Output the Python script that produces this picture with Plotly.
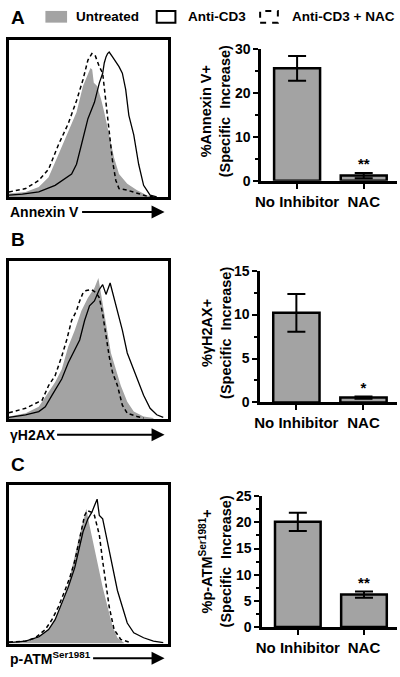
import plotly.graph_objects as go

W, H = 400, 677

# ---------------- Histogram data (x: fluorescence, % of axis; y: % of axis height) ----------------
# Panel A - Annexin V
histA_untreated_x = [0, 10.5, 18.8, 25, 31.2, 37.4, 42.6, 46.7, 49.8, 51.4, 52.5, 53.5, 55.6, 58.1, 60.1, 63.2, 66.3, 69.4, 74.6, 80.8, 87, 91.1]
histA_untreated_y = [2.5, 3.5, 6.6, 12.8, 27.3, 41.8, 54.2, 70.8, 79, 82.4, 81.4, 72.9, 70.8, 62.5, 54.2, 39.8, 25.3, 14.9, 8.7, 4.6, 1.4, 0.4]
histA_cd3_x = [0, 8.5, 18.8, 29.1, 39.5, 42.6, 45.7, 49.8, 53.9, 57, 59.1, 60.1, 61.2, 62.2, 63.2, 64.3, 65.3, 67.4, 69.4, 71.5, 73.6, 75.6, 78.7, 81.8, 84.9, 89, 93.2]
histA_cd3_y = [1.4, 2.1, 3.5, 7.7, 14.9, 21.1, 33.5, 50.1, 60.5, 72.9, 79, 85.5, 89.4, 91.5, 92.5, 90.5, 89.4, 86.3, 83.2, 79, 68.7, 52.2, 39.8, 21.1, 7.7, 1.4, 0.4]
histA_nac_x = [0, 10.5, 18.8, 25, 31.2, 37.4, 42.6, 46.7, 49.8, 52.3, 54.3, 57, 59.1, 61.2, 63.2, 65.3, 67.4, 69.4, 74.6, 80.8, 87, 93.2]
histA_nac_y = [3.5, 5.6, 10.8, 18, 33.5, 47, 61.5, 75, 87.4, 91.5, 90.5, 83.2, 79, 60.5, 39.8, 23.2, 10.8, 5.6, 4.6, 2.5, 0.8, 0]

# Panel B - gammaH2AX
histB_untreated_x = [0, 10.5, 18.8, 25, 29.1, 33.3, 37.4, 41.5, 45.7, 49.8, 53.9, 56.4, 58.1, 60.1, 62.2, 64.3, 67.4, 70.5, 74.6, 78.7, 84.9, 91.1]
histB_untreated_y = [1.6, 3.7, 7.8, 17.1, 23.3, 31.5, 45.9, 56.2, 68.5, 76.7, 82.9, 89.1, 78.8, 66.5, 52.1, 41.8, 31.5, 21.2, 10.9, 4.7, 1.6, 0.6]
histB_cd3_x = [0, 10.5, 18.8, 22.9, 27.1, 33.3, 37.4, 41.5, 44.6, 47.7, 50.8, 53.9, 57, 59.1, 61.2, 63.8, 66.3, 68.4, 71.5, 74.6, 77.7, 80.8, 84.9, 89, 93.2, 97.3]
histB_cd3_y = [1, 2.7, 4.7, 7.8, 15, 25.3, 35.6, 43.8, 50, 62.3, 71.6, 74.7, 81.9, 85, 78.8, 86, 76.7, 68.5, 56.2, 41.8, 33.5, 25.3, 15, 6.8, 2.7, 1]
histB_nac_x = [0, 2.3, 10.5, 18.8, 20.9, 25, 29.1, 33.3, 36.4, 39.5, 42.6, 44.6, 46.7, 48.8, 51.9, 55, 57, 59.1, 61.2, 63.2, 65.3, 68.4, 71.5, 74.6, 80.8, 84.9]
histB_nac_y = [4, 4.7, 6.8, 10.9, 11.9, 21.2, 27.4, 39.7, 50, 62.3, 68.5, 74.7, 79.8, 81.3, 81.9, 79.8, 76.7, 66.5, 52.1, 39.7, 29.4, 21.2, 8.8, 3.7, 1.6, 0.6]

# Panel C - p-ATM Ser1981
histC_untreated_x = [0, 10.5, 18.8, 25, 29.1, 33.3, 37.4, 40.5, 43.6, 46.7, 48.8, 50.8, 52.9, 56, 59.1, 62.2, 65.3, 68.4, 72.5]
histC_untreated_y = [0.6, 1.4, 3.7, 8.9, 15.1, 25.4, 37.7, 52.2, 64.5, 76.9, 85.2, 74.8, 64.5, 50.1, 35.7, 23.3, 10.9, 3.7, 0.6]
histC_cd3_x = [0, 10.5, 18.8, 25, 29.1, 33.3, 37.4, 41.5, 44.6, 46.7, 49.8, 52.3, 53.9, 55.6, 57, 59.1, 61.2, 63.2, 65.3, 68.4, 71.5, 74.6, 78.7, 84.9, 91.1, 97.3]
histC_cd3_y = [0.6, 1.6, 4.3, 8.9, 15.1, 25.4, 35.7, 48, 62.5, 70.7, 78.9, 83.1, 87.2, 91.3, 81, 78.9, 68.7, 58.4, 48, 33.6, 23.3, 13, 6.8, 3.7, 1.6, 0.6]
histC_nac_x = [0, 10.5, 16.7, 22.9, 27.1, 31.2, 35.3, 38.4, 41.5, 43.6, 45.7, 47.7, 49.4, 51.9, 53.9, 55, 57, 59.1, 61.2, 63.2, 66.3, 70.5, 76.7]
histC_nac_y = [1, 1.6, 3.7, 8.9, 15.1, 23.3, 33.6, 41.9, 52.2, 62.5, 72.8, 81, 84.1, 83.1, 81, 76.9, 68.7, 52.2, 37.7, 23.3, 8.9, 2.7, 0.6]

# ---------------- Bar data ----------------
bar_categories = ["No Inhibitor", "NAC"]
annexin_mean = [25.6, 1.2]
annexin_err = [2.8, 0.6]
annexin_stars = ["", "**"]
h2ax_mean = [10.2, 0.55]
h2ax_err = [2.15, 0.12]
h2ax_stars = ["", "*"]
patm_mean = [20.1, 6.2]
patm_err = [1.75, 0.6]
patm_stars = ["", "**"]

legend_labels = ["Untreated", "Anti-CD3", "Anti-CD3 + NAC"]
panel_letters = ["A", "B", "C"]

GRAY = "#a3a3a3"
FONT = "Liberation Sans, Arial, Helvetica, sans-serif"


def fx(px):
    return px / W


def fy(py):
    return 1 - py / H


fig = go.Figure()
layout = dict(width=W, height=H, margin=dict(l=0, r=0, t=0, b=0),
              paper_bgcolor="white", plot_bgcolor="white", showlegend=False,
              font=dict(family=FONT, color="black"))

hist_sets = [
    (histA_untreated_x, histA_untreated_y, histA_cd3_x, histA_cd3_y, histA_nac_x, histA_nac_y, 33, 194),
    (histB_untreated_x, histB_untreated_y, histB_cd3_x, histB_cd3_y, histB_nac_x, histB_nac_y, 259, 421),
    (histC_untreated_x, histC_untreated_y, histC_cd3_x, histC_cd3_y, histC_nac_x, histC_nac_y, 489, 651),
]

for i, (ux, uy, cx, cy, nx, ny, top, bot) in enumerate(hist_sets):
    n = i + 1
    xa, ya = f"x{n}", f"y{n}"
    fig.add_trace(go.Scatter(x=ux, y=uy, mode="lines", fill="tozeroy", fillcolor=GRAY,
                             line=dict(width=0, color=GRAY), xaxis=xa, yaxis=ya))
    fig.add_trace(go.Scatter(x=cx, y=cy, mode="lines", line=dict(width=1.3, color="black"),
                             xaxis=xa, yaxis=ya))
    fig.add_trace(go.Scatter(x=nx, y=ny, mode="lines", line=dict(width=1.5, color="black", dash="4px,3px"),
                             xaxis=xa, yaxis=ya))
    ax_common = dict(showline=True, mirror=True, linewidth=2.5, linecolor="black", showgrid=False,
                     zeroline=False, showticklabels=False, ticks="", fixedrange=True)
    layout[f"xaxis{n}"] = dict(domain=[fx(3), fx(164)], range=[0, 100], anchor=ya, **ax_common)
    layout[f"yaxis{n}"] = dict(domain=[fy(bot), fy(top)], range=[0, 100], anchor=xa, **ax_common)

bar_sets = [
    (annexin_mean, annexin_err, annexin_stars, 30, 10, 5, 42, 177, 259),
    (h2ax_mean, h2ax_err, h2ax_stars, 15, 5, 2.5, 269, 404, 258),
    (patm_mean, patm_err, patm_stars, 25, 5, 2.5, 500, 634, 260),
]

for i, (mean, err, stars, ymax, dt, mdt, top, bot, left) in enumerate(bar_sets):
    n = i + 4
    xa, ya = f"x{n}", f"y{n}"
    fig.add_trace(go.Bar(x=[0, 1], y=mean, width=0.69,
                         marker=dict(color=GRAY, line=dict(color="black", width=2.5)),
                         error_y=dict(type="data", array=err, color="black", thickness=2, width=9),
                         xaxis=xa, yaxis=ya))
    sx = [k for k, s in enumerate(stars) if s]
    sy = [mean[k] + err[k] for k in sx]
    st = [stars[k] for k in sx]
    fig.add_trace(go.Scatter(x=sx, y=sy, mode="text", text=st,
                             textposition="top center",
                             textfont=dict(size=15, family=FONT, weight="bold", color="black"),
                             xaxis=xa, yaxis=ya, cliponaxis=False))
    layout[f"xaxis{n}"] = dict(domain=[fx(left), fx(397)], range=[-0.54, 1.5], anchor=ya,
                               tickvals=[0, 1], ticktext=bar_categories, ticks="outside", ticklen=5,
                               tickwidth=2, tickcolor="black", showline=True, linewidth=2.5, linecolor="black",
                               showgrid=False, zeroline=False, fixedrange=True,
                               tickfont=dict(size=15, family=FONT, weight="bold", color="black"))
    layout[f"yaxis{n}"] = dict(domain=[fy(bot), fy(top)], range=[0, ymax], anchor=xa, dtick=dt,
                               ticks="outside", ticklen=5, tickwidth=2, tickcolor="black",
                               minor=dict(dtick=mdt, ticks="outside", ticklen=3, tickwidth=2, tickcolor="black"),
                               showline=True, linewidth=2.5, linecolor="black", showgrid=False,
                               zeroline=False, fixedrange=True,
                               tickfont=dict(size=14, family=FONT, weight="bold", color="black"))

annotations = []
bold = dict(family=FONT, weight="bold", color="black")

# panel letters
for letter, py in zip(panel_letters, [10, 237, 468]):
    annotations.append(dict(text=letter, x=fx(3), y=fy(py), xref="paper", yref="paper",
                            xanchor="left", yanchor="middle", showarrow=False, font=dict(size=19, **bold)))

# legend
for label, px in zip(legend_labels, [69, 183, 288]):
    annotations.append(dict(text=label, x=fx(px), y=fy(9), xref="paper", yref="paper",
                            xanchor="left", yanchor="middle", showarrow=False, font=dict(size=13.5, **bold)))
shapes = [
    dict(type="rect", xref="paper", yref="paper", x0=fx(40), x1=fx(62), y0=fy(15), y1=fy(3),
         fillcolor=GRAY, line=dict(width=0)),
    dict(type="rect", xref="paper", yref="paper", x0=fx(153), x1=fx(172), y0=fy(15), y1=fy(3),
         line=dict(width=2, color="black")),
    dict(type="rect", xref="paper", yref="paper", x0=fx(258), x1=fx(276), y0=fy(15), y1=fy(3),
         line=dict(width=2, color="black", dash="6px,6px")),
]

# histogram axis labels with arrows
hist_labels = ["Annexin V", "γH2AX", "p-ATM<sup>Ser1981</sup>"]
for label, py, ax0 in zip(hist_labels, [209, 437, 666], [77, 52, 88]):
    annotations.append(dict(text=label, x=fx(2), y=fy(py), xref="paper", yref="paper",
                            xanchor="left", yanchor="middle", showarrow=False, font=dict(size=14, **bold)))
    annotations.append(dict(text="", x=fx(161), y=fy(py), xref="paper", yref="paper",
                            ax=-(161 - ax0), ay=0, axref="pixel", ayref="pixel", showarrow=True,
                            arrowhead=2, arrowsize=1.3, arrowwidth=2, arrowcolor="black"))

# bar y titles
bar_titles = ["%Annexin V+<br>(Specific  Increase)", "%γH2AX+<br>(Specific  Increase)",
              "%p-ATM<sup>Ser1981</sup>+<br>(Specific  Increase)"]
for t, py in zip(bar_titles, [106, 333, 567]):
    annotations.append(dict(text=t, x=fx(213), y=fy(py), xref="paper", yref="paper",
                            xanchor="center", yanchor="middle", textangle=-90, showarrow=False,
                            font=dict(size=14.5, **bold)))

layout["annotations"] = annotations
layout["shapes"] = shapes
fig.update_layout(**layout)
fig.write_html("out.html", config={"displayModeBar": False},
               post_script="document.body.style.margin='0px';document.body.style.overflow='hidden';")
